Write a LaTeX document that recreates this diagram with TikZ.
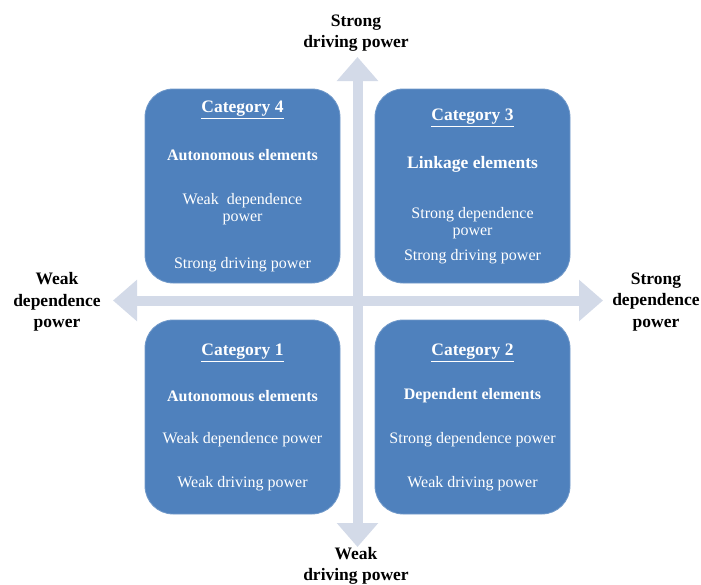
\documentclass[tikz,border=0pt]{standalone}
\usepackage{fontspec}
\setmainfont{Liberation Serif}
\usepackage{tikz}
\usetikzlibrary{arrows.meta}
\usetikzlibrary{positioning}
\definecolor{quadblue}{HTML}{4F81BD}
\definecolor{axisgray}{HTML}{D3DAE8}
\tikzset{
  quad/.style={draw=quadblue!80!white,fill=quadblue,line width=0.8pt,
    rounded corners=28pt,minimum width=195pt,minimum height=194pt},
  cattitle/.style={text=white,inner sep=0pt,font=\fontsize{17.5}{20}\selectfont\bfseries},
  elemhead/.style={text=white,inner sep=0pt,font=\fontsize{16}{18}\selectfont\bfseries},
  power/.style={text=white,inner sep=0pt,align=center,font=\fontsize{16}{17}\selectfont},
  axislabel/.style={inner sep=0pt,align=center,font=\fontsize{17.5}{21.5}\selectfont\bfseries},
  axisarrow/.style={draw=axisgray,line width=10pt,
    {Triangle[width=40pt,length=24pt]}-{Triangle[width=40pt,length=24pt]}}
}

\begin{document}
\begin{tikzpicture}[x=1pt,y=-1pt]
  \useasboundingbox (0,0) rectangle (701,584);

  % axes
  \coordinate (up) at (357.5,57);
  \coordinate (down) at (357.5,547);
  \coordinate (west) at (113,300.5);
  \coordinate (east) at (603,300.5);
  \draw[axisarrow] (down) -- (up);
  \draw[axisarrow] (west) -- (east);

  \node[axislabel] (strdrv) at (356,33) {Strong\\driving power};
  \node[axislabel] (wkdrv) at (356,566) {Weak\\driving power};
  \node[axislabel] (wkdep) at (57,302) {Weak\\dependence\\power};
  \node[axislabel] (strdep) at (656,302) {Strong\\dependence\\power};

  % quadrants
  \node[quad] (cat4) at (242.5,186) {};
  \node[quad] (cat3) at (472.5,186) {};
  \node[quad] (cat1) at (242.5,417) {};
  \node[quad] (cat2) at (472.5,417) {};

  \node[cattitle] (c4title) at (242.5,110) {\underline{Category 4}};
  \node[elemhead] (c4elem) at (242.5,155) {Autonomous elements};
  \node[power] (c4dep) at (242.5,209.5) {Weak\ \ dependence\\power};
  \node[power] (c4drv) at (242.5,265) {Strong driving power};

  \node[cattitle] (c3title) at (472.5,118) {\underline{Category 3}};
  \node[cattitle] (c3elem) at (472.5,164) {Linkage elements};
  \node[power] (c3dep) at (472.5,223.5) {Strong dependence\\power};
  \node[power] (c3drv) at (472.5,257) {Strong driving power};

  \node[cattitle] (c1title) at (242.5,353) {\underline{Category 1}};
  \node[elemhead] (c1elem) at (242.5,396) {Autonomous elements};
  \node[power] (c1dep) at (242.5,440) {Weak dependence power};
  \node[power] (c1drv) at (242.5,484) {Weak driving power};

  \node[cattitle] (c2title) at (472.5,353) {\underline{Category 2}};
  \node[elemhead] (c2elem) at (472.5,396) {Dependent elements};
  \node[power] (c2dep) at (472.5,440) {Strong dependence power};
  \node[power] (c2drv) at (472.5,484) {Weak driving power};

\end{tikzpicture}
\end{document}
